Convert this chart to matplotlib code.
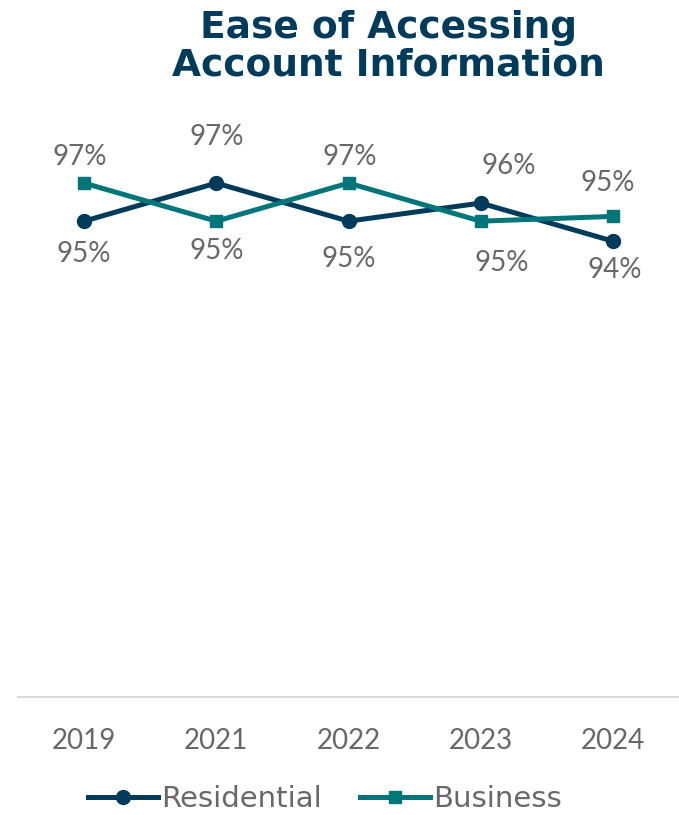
import matplotlib
matplotlib.use("Agg")
import matplotlib.pyplot as plt

# Survey results by year (percent satisfied)
years = ["2019", "2021", "2022", "2023", "2024"]
residential = [95.0, 97.0, 95.0, 95.95, 93.95]
business = [97.0, 95.0, 97.0, 95.0, 95.25]

# label offsets in pixels (dx, dy) for each point
res_offsets = [(0, -33), (0, 46), (0, -38), (28, 37), (2, -29)]
bus_offsets = [(-4, 26), (0, -30), (1, 26), (21, -42), (-5, 33)]

NAVY = "#003B5C"
TEAL = "#00757A"
GREY = "#686868"

plt.rcParams["font.family"] = ["Lato", "DejaVu Sans"]

fig = plt.figure(figsize=(6.79, 8.15), dpi=100)
ax = fig.add_axes([18 / 679, (815 - 697) / 815, (679 - 18) / 679, (697 - 126) / 815])

x = list(range(len(years)))
ax.plot(x, residential, color=NAVY, lw=3.6, marker="o", ms=10, label="Residential",
        solid_joinstyle="miter", zorder=3)
ax.plot(x, business, color=TEAL, lw=3.6, marker="s", ms=9, label="Business",
        solid_joinstyle="miter", zorder=3)

for xi, v, (dx, dy) in zip(x, residential, res_offsets):
    ax.annotate(f"{v:.0f}%", (xi, v), xytext=(dx, dy), textcoords="offset pixels",
                ha="center", va="center", fontsize=20, color=GREY)
for xi, v, (dx, dy) in zip(x, business, bus_offsets):
    ax.annotate(f"{v:.0f}%", (xi, v), xytext=(dx, dy), textcoords="offset pixels",
                ha="center", va="center", fontsize=20, color=GREY)

ax.set_xlim(-0.5, len(years) - 0.5)
ax.set_ylim(70, 100)
ax.set_xticks(x)
ax.set_xticklabels(years, fontsize=20, color=GREY)
ax.tick_params(axis="x", length=0, pad=22)
ax.set_yticks([])
for side in ["top", "left", "right"]:
    ax.spines[side].set_visible(False)
ax.spines["bottom"].set_color("#D9D9D9")
ax.spines["bottom"].set_linewidth(1.5)

fig.text(388 / 679, 1 - 47 / 815, "Ease of Accessing\nAccount Information",
         ha="center", va="center", fontsize=27, fontweight="bold", color=NAVY,
         linespacing=1.07, family=["DejaVu Sans"])

leg = fig.legend(loc="center", bbox_to_anchor=(325 / 679, 1 - 799 / 815), ncol=2,
                 frameon=False, handlelength=2.4, handletextpad=0.1,
                 columnspacing=1.3, labelcolor=GREY,
                 prop={"family": "DejaVu Sans", "size": 21})

fig.savefig("out.png", dpi=100)
